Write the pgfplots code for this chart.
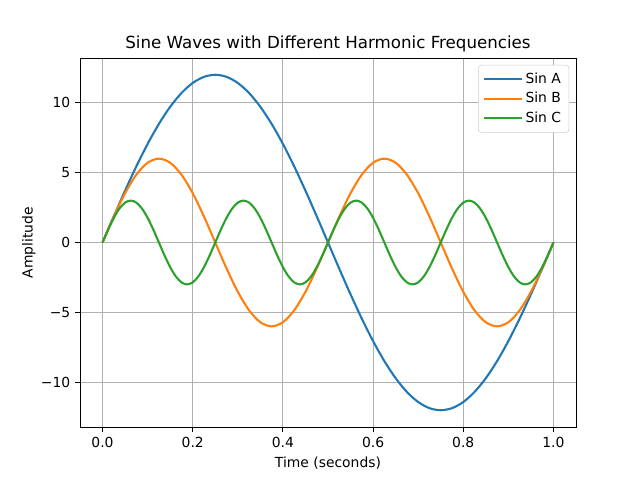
\documentclass[border=0pt]{standalone}
\usepackage{fontspec}
\setmainfont{DejaVu Sans}
\usepackage{pgfplots}
\pgfplotsset{compat=1.18}
\usepackage{pgfplotstable}

\definecolor{cA}{HTML}{1F77B4}
\definecolor{cB}{HTML}{FF7F0E}
\definecolor{cC}{HTML}{2CA02C}

% Sin A (amp 12) and Sin B (amp 6), step 0.025
\pgfplotstableread{
x      a        b
0      0        0
0.025  1.877    1.854
0.05   3.708    3.527
0.075  5.448    4.854
0.1    7.053    5.706
0.125  8.485    6
0.15   9.708    5.706
0.175  10.692   4.854
0.2    11.413   3.527
0.225  11.852   1.854
0.25   12       0
0.275  11.852   -1.854
0.3    11.413   -3.527
0.325  10.692   -4.854
0.35   9.708    -5.706
0.375  8.485    -6
0.4    7.053    -5.706
0.425  5.448    -4.854
0.45   3.708    -3.527
0.475  1.877    -1.854
0.5    0        0
0.525  -1.877   1.854
0.55   -3.708   3.527
0.575  -5.448   4.854
0.6    -7.053   5.706
0.625  -8.485   6
0.65   -9.708   5.706
0.675  -10.692  4.854
0.7    -11.413  3.527
0.725  -11.852  1.854
0.75   -12      0
0.775  -11.852  -1.854
0.8    -11.413  -3.527
0.825  -10.692  -4.854
0.85   -9.708   -5.706
0.875  -8.485   -6
0.9    -7.053   -5.706
0.925  -5.448   -4.854
0.95   -3.708   -3.527
0.975  -1.877   -1.854
1      0        0
}\tabAB

% Sin C (amp 3), step 0.0125
\pgfplotstableread{
x       c
0       0
0.0125  0.927
0.025   1.763
0.0375  2.427
0.05    2.853
0.0625  3
0.075   2.853
0.0875  2.427
0.1     1.763
0.1125  0.927
0.125   0
0.1375  -0.927
0.15    -1.763
0.1625  -2.427
0.175   -2.853
0.1875  -3
0.2     -2.853
0.2125  -2.427
0.225   -1.763
0.2375  -0.927
0.25    0
0.2625  0.927
0.275   1.763
0.2875  2.427
0.3     2.853
0.3125  3
0.325   2.853
0.3375  2.427
0.35    1.763
0.3625  0.927
0.375   0
0.3875  -0.927
0.4     -1.763
0.4125  -2.427
0.425   -2.853
0.4375  -3
0.45    -2.853
0.4625  -2.427
0.475   -1.763
0.4875  -0.927
0.5     0
0.5125  0.927
0.525   1.763
0.5375  2.427
0.55    2.853
0.5625  3
0.575   2.853
0.5875  2.427
0.6     1.763
0.6125  0.927
0.625   0
0.6375  -0.927
0.65    -1.763
0.6625  -2.427
0.675   -2.853
0.6875  -3
0.7     -2.853
0.7125  -2.427
0.725   -1.763
0.7375  -0.927
0.75    0
0.7625  0.927
0.775   1.763
0.7875  2.427
0.8     2.853
0.8125  3
0.825   2.853
0.8375  2.427
0.85    1.763
0.8625  0.927
0.875   0
0.8875  -0.927
0.9     -1.763
0.9125  -2.427
0.925   -2.853
0.9375  -3
0.95    -2.853
0.9625  -2.427
0.975   -1.763
0.9875  -0.927
1       0
}\tabC

\begin{document}
\begin{tikzpicture}
\path[use as bounding box] (-57.6pt,-38.16pt) rectangle (403.2pt,307.44pt);
\begin{axis}[
    scale only axis,
    width=357.12pt, height=265.68pt,
    xmin=-0.05, xmax=1.05,
    ymin=-13.2, ymax=13.2,
    xtick={0,0.2,0.4,0.6,0.8,1.0},
    xticklabels={0.0,0.2,0.4,0.6,0.8,1.0},
    ytick={-10,-5,0,5,10},
    yticklabels={−10,−5,0,5,10},
    xtick pos=bottom, ytick pos=left,
    tick align=outside,
    major tick length=3.5pt,
    every tick/.style={black, line width=0.6pt},
    axis line style={line width=0.6pt},
    grid=major,
    grid style={color=black!31, line width=0.6pt},
    tick label style={font=\fontsize{10}{12}\selectfont},
    label style={font=\fontsize{10}{12}\selectfont},
    ylabel shift=-3pt,
    title style={font=\fontsize{12}{14}\selectfont, yshift=-5.5pt},
    title={Sine Waves with Different Harmonic Frequencies},
    xlabel={Time (seconds)},
    ylabel={Amplitude},
    legend cell align=left,
    legend style={at={(1,1)}, xshift=-5pt, yshift=-5pt, anchor=north east,
        draw=black!20, rounded corners=2pt,
        font=\fontsize{10}{12}\selectfont,
        row sep=1pt, inner sep=3.5pt},
    legend image code/.code={
        \draw[#1] (0pt,0pt) -- (21.6pt,0pt);
        \path (0pt,0pt) -- (27pt,0pt);
    },
]
\addplot[cA, line width=1.5pt, smooth] table[x=x, y=a] {\tabAB};
\addlegendentry{Sin A}
\addplot[cB, line width=1.5pt, smooth] table[x=x, y=b] {\tabAB};
\addlegendentry{Sin B}
\addplot[cC, line width=1.5pt, smooth] table[x=x, y=c] {\tabC};
\addlegendentry{Sin C}
\end{axis}
\end{tikzpicture}
\end{document}
